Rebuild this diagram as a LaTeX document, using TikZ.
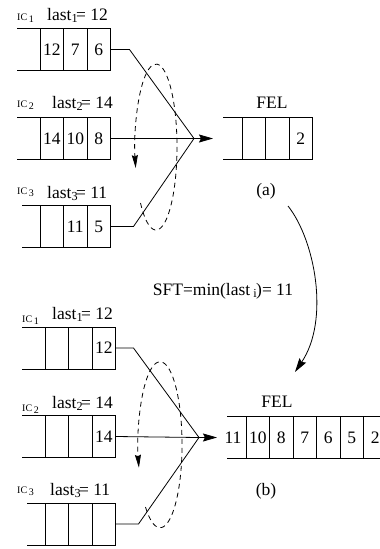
\documentclass[tikz,border=0pt]{standalone}
\usepackage{fontspec}
\setmainfont{Liberation Serif}
\usepackage{tikz}
\usetikzlibrary{arrows.meta, positioning}
\tikzstyle{cell} = [
    rectangle,
    minimum width=23.5pt,
    minimum height=42pt,
    inner sep=0pt,
    outer sep=0pt,
    draw=black,
    line width=0.8pt,
    font=\fontsize{17.5}{18}\selectfont
]
\tikzstyle{opencell} = [
    inner sep=0pt,
    font=\fontsize{17.5}{18}\selectfont
]
\tikzstyle{rail} = [
    line width=0.8pt
]
\tikzstyle{wire} = [
    line width=0.8pt
]
\tikzstyle{arrow} = [
    line width=0.8pt,
    -{Stealth[length=14pt, width=8pt, inset=2pt]}
]
\tikzstyle{loopback} = [
    line width=0.8pt,
    dash pattern=on 5pt off 4pt,
    -{Stealth[length=13pt, width=6pt, inset=1.5pt]}
]
\tikzstyle{txt} = [
    inner sep=0pt,
    anchor=base west,
    font=\fontsize{17.5}{18}\selectfont
]
\tikzstyle{ictxt} = [
    inner sep=0pt,
    anchor=base west,
    font=\fontsize{10}{10}\selectfont
]

\begin{document}
\begin{tikzpicture}[
    x=1pt,
    y=-1pt
]
\useasboundingbox (0,0) rectangle (380,549);

% ---- (a) ----
\node (icA1) [ictxt] at (17,20) {IC\,\raisebox{-2pt}{1}};
\node (lastA1) [txt] at (47,20) {last\textsubscript{1}\kern-2pt= 12};

\node (a1c1) [cell, anchor=west] at (40,49.5) {12};
\node (a1c2) [cell, right=0pt of a1c1] {7};
\node (a1c3) [cell, right=0pt of a1c2] {6};
\draw [rail] (a1c1.north west) -- ++(-23,0);
\draw [rail] (a1c1.south west) -- ++(-23,0);

\node (icA2) [ictxt] at (17,107) {IC\,\raisebox{-2pt}{2}};
\node (lastA2) [txt] at (52,108) {last\textsubscript{2}\kern-2pt= 14};

\node (a2c1) [cell, anchor=west] at (40,138.5) {14};
\node (a2c2) [cell, right=0pt of a2c1] {10};
\node (a2c3) [cell, right=0pt of a2c2] {8};
\draw [rail] (a2c1.north west) -- ++(-23,0);
\draw [rail] (a2c1.south west) -- ++(-23,0);

\node (icA3) [ictxt] at (17,194) {IC\,\raisebox{-2pt}{3}};
\node (lastA3) [txt] at (47,198) {last\textsubscript{3}\kern-2pt= 11};

\node (a3c1) [cell, anchor=west] at (40,226.5) {};
\node (a3c2) [cell, right=0pt of a3c1] {11};
\node (a3c3) [cell, right=0pt of a3c2] {5};
\draw [rail] (a3c1.north west) -- ++(-18,0);
\draw [rail] (a3c1.south west) -- ++(-18,0);

\coordinate (apexA) at (194,138.5);
\coordinate (felAin) at (213,138.5);

\node (felAtitle) [txt, anchor=base] at (272,108) {FEL};
\node (fa1) [cell, anchor=west] at (242,138.5) {};
\node (fa2) [cell, right=0pt of fa1] {};
\node (fa3) [cell, right=0pt of fa2] {2};
\draw [rail] (fa1.north west) -- ++(-19,0);
\draw [rail] (fa1.south west) -- ++(-19,0);

\node (capA) [txt, anchor=base] at (266,195) {(a)};

\draw [wire] (a1c3.east) -- ++(19,0) -- (apexA);
\draw [wire] (a2c3.east) -- (apexA);
\draw [wire] (a3c3.east) -- ++(23,0) -- (apexA);
\draw [arrow] (apexA) -- (felAin);

\draw [loopback] (140.5,203)
arc[start angle=137.6, end angle=-194.7, x radius=21, y radius=83];

% ---- from (a) to (b) ----
\coordinate (bendFrom) at (288,206);
\coordinate (bendTo) at (295,372);
\node (sft) [txt, anchor=base] at (223,295)
{SFT=min(last\kern3pt\textsubscript{i}\kern-1pt)= 11};

\draw [arrow]
(bendFrom) .. controls (315,240) and (330,320) .. (bendTo);

% ---- (b) ----
\node (icB1) [ictxt] at (22,322) {IC\,\raisebox{-2pt}{1}};
\node (lastB1) [txt] at (52,319) {last\textsubscript{1}\kern-2pt= 12};

\node (b1c1) [cell, anchor=west] at (45,348) {};
\node (b1c2) [cell, right=0pt of b1c1] {};
\node (b1c3) [cell, right=0pt of b1c2] {12};
\draw [rail] (b1c1.north west) -- ++(-23,0);
\draw [rail] (b1c1.south west) -- ++(-23,0);

\node (icB2) [ictxt] at (22,411) {IC\,\raisebox{-2pt}{2}};
\node (lastB2) [txt] at (52,408) {last\textsubscript{2}\kern-2pt= 14};

\node (b2c1) [cell, anchor=west] at (45,436.5) {};
\node (b2c2) [cell, right=0pt of b2c1] {};
\node (b2c3) [cell, right=0pt of b2c2] {14};
\draw [rail] (b2c1.north west) -- ++(-23,0);
\draw [rail] (b2c1.south west) -- ++(-23,0);

\node (icB3) [ictxt] at (17,493) {IC\,\raisebox{-2pt}{3}};
\node (lastB3) [txt] at (50,495) {last\textsubscript{3}\kern-2pt= 11};

\node (b3c1) [cell, anchor=west] at (45,524) {};
\node (b3c2) [cell, right=0pt of b3c1] {};
\node (b3c3) [cell, right=0pt of b3c2] {};
\draw [rail] (b3c1.north west) -- ++(-18,0);
\draw [rail] (b3c1.south west) -- ++(-18,0);

\coordinate (apexB) at (199,437.5);
\coordinate (felBin) at (217,437.5);

\node (felBtitle) [txt, anchor=base] at (277,407) {FEL};
\node (fb0) [opencell] at (233,437.5) {11};
\node (fb1) [cell, anchor=west] at (246,437.5) {10};
\node (fb2) [cell, right=0pt of fb1] {8};
\node (fb3) [cell, right=0pt of fb2] {7};
\node (fb4) [cell, right=0pt of fb3] {6};
\node (fb5) [cell, right=0pt of fb4] {5};
\node (fb6) [cell, right=0pt of fb5] {2};
\draw [rail] (fb1.north west) -- ++(-19,0);
\draw [rail] (fb1.south west) -- ++(-19,0);

\node (capB) [txt, anchor=base] at (266,495) {(b)};

\draw [wire] (b1c3.east) -- ++(18,0) -- (apexB);
\draw [wire] (b2c3.east) -- (apexB);
\draw [wire] (b3c3.east) -- ++(23,0) -- (apexB);
\draw [arrow] (apexB) -- (felBin);

\draw [loopback] (145.5,507)
arc[start angle=131.4, end angle=-196.1, x radius=22, y radius=83];

\end{tikzpicture}
\end{document}
